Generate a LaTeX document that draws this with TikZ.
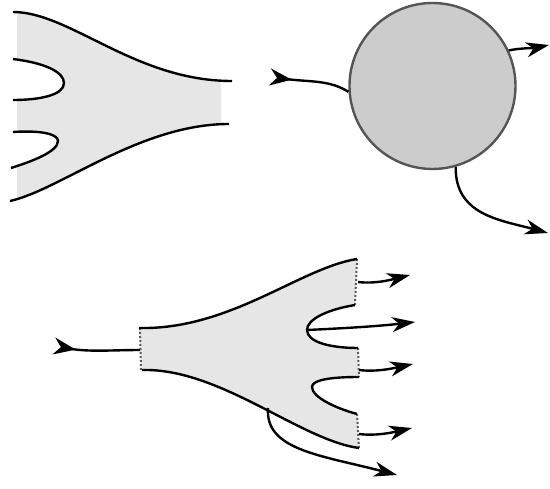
\documentclass[tikz,border=0pt]{standalone}
\usetikzlibrary{arrows.meta}
\definecolor{shapefill}{HTML}{E6E6E6}
\definecolor{blobfill}{HTML}{CCCCCC}
\definecolor{blobline}{HTML}{555555}
\tikzset{
  edge/.style={line width=2.4pt, black},
  outarrow/.style={line width=2.4pt, -{Stealth[length=23pt,width=15pt,inset=7pt]}},
  inarrow/.style={line width=2.4pt, {Stealth[reversed,length=22pt,width=17pt,inset=7pt]}-},
  cutedge/.style={line width=2pt, gray!70!black, dotted},
}
\begin{document}
\begin{tikzpicture}[x=1pt,y=-1pt]
\useasboundingbox (0,0) rectangle (550,489);

% ---------- top-left shape ----------
\begin{scope}
\clip (17,0) rectangle (221,210);
\fill[shapefill] (13,12) .. controls (70,12) and (135,81) .. (232,81)
  -- (229,124) .. controls (140,124) and (60,190) .. (10,201)
  -- (11,168) .. controls (30,162) and (58,152) .. (58,141)
  .. controls (58,135) and (45,130) .. (13,132)
  -- (13,100) .. controls (40,100) and (64,95) .. (64,83)
  .. controls (64,72) and (45,63) .. (13,59) -- cycle;
\end{scope}
\draw[edge] (13,12) .. controls (70,12) and (135,81) .. (232,81);
\draw[edge] (10,201) .. controls (60,190) and (140,124) .. (229,124);
\draw[edge] (13,59) .. controls (45,63) and (64,72) .. (64,83)
  .. controls (64,95) and (40,100) .. (13,100);
\draw[edge] (13,132) .. controls (45,130) and (58,135) .. (58,141)
  .. controls (58,152) and (30,162) .. (11,168);

% ---------- circle ----------
\node[circle, minimum size=166pt, inner sep=0pt, fill=blobfill, draw=blobline, line width=2.4pt] (blob) at (432.5,86) {};
\coordinate (inA) at (270,77);
\coordinate (outA) at (549,45);
\coordinate (outB) at (548,233);
\draw[inarrow] (inA) .. controls (310,82) and (330,80) .. (blob.184);
\draw[outarrow] (blob.25) .. controls (520,48) and (535,48) .. (outA);
\draw[outarrow] (blob.286) .. controls (455,215) and (500,220) .. (outB);

% ---------- bottom shape ----------
\fill[shapefill] (139,328) .. controls (230,330) and (300,268) .. (357,259)
  -- (355,305) .. controls (325,310) and (307,320) .. (307,330)
  .. controls (307,342) and (330,348) .. (358,348)
  -- (359,377) .. controls (330,377) and (312,380) .. (312,387)
  .. controls (312,397) and (335,408) .. (357,414)
  -- (359,448) .. controls (300,440) and (220,368) .. (142,370) -- cycle;
\draw[cutedge] (140,328) -- (141,370);
\draw[cutedge] (357,259) -- (355,305);
\draw[cutedge] (358,348) -- (359,377);
\draw[cutedge] (357,414) -- (359,448);
\draw[edge] (139,328) .. controls (230,330) and (300,268) .. (357,259);
\draw[edge] (142,370) .. controls (220,368) and (300,440) .. (359,448);
\draw[edge] (355,305) .. controls (325,310) and (307,320) .. (307,330)
  .. controls (307,342) and (330,348) .. (358,348);
\draw[edge] (359,377) .. controls (330,377) and (312,380) .. (312,387)
  .. controls (312,397) and (335,408) .. (357,414);

\coordinate (inB) at (54,346);
\coordinate (leftcut) at (140,350);
\draw[inarrow] (inB) .. controls (90,352) and (115,350) .. (leftcut);

\coordinate (s1) at (358,282);  \coordinate (e1) at (410,275);
\coordinate (s2) at (307,330);  \coordinate (e2) at (415,322);
\coordinate (s3) at (359,370);  \coordinate (e3) at (413,364);
\coordinate (s4) at (359,434);  \coordinate (e4) at (412,428);
\coordinate (s5) at (268,408);  \coordinate (e5) at (397,475);
\draw[outarrow] (s1) .. controls (375,284) and (390,280) .. (e1);
\draw[outarrow] (s2) .. controls (350,328) and (380,326) .. (e2);
\draw[outarrow] (s3) .. controls (375,372) and (390,369) .. (e3);
\draw[outarrow] (s4) .. controls (375,436) and (390,433) .. (e4);
\draw[outarrow] (s5) .. controls (265,450) and (320,455) .. (e5);
\end{tikzpicture}
\end{document}
